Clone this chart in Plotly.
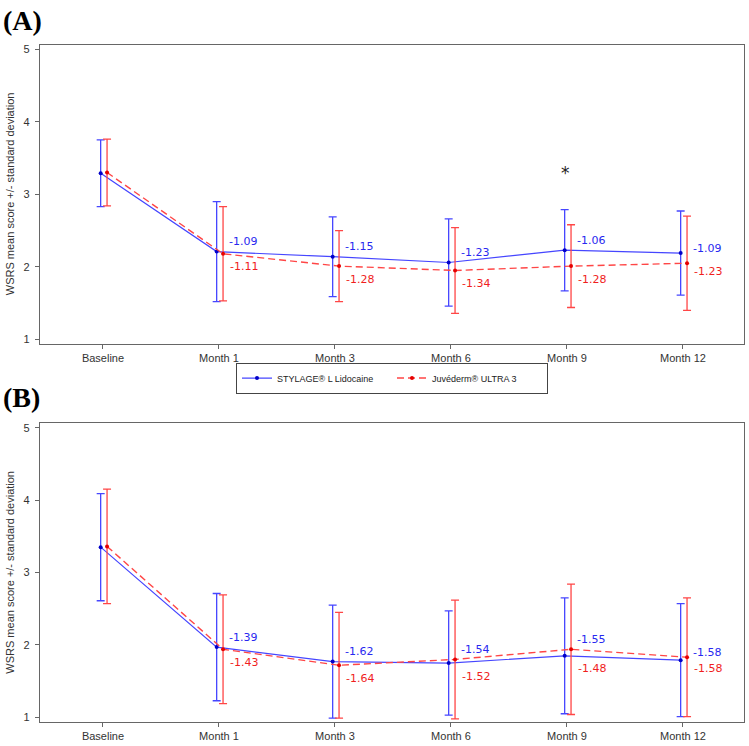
import plotly.graph_objects as go

categories = ["Baseline", "Month 1", "Month 3", "Month 6", "Month 9", "Month 12"]
series_names = ["STYLAGE® L Lidocaine", "Juvéderm® ULTRA 3"]

# Panel A
a_blue_mean = [3.29, 2.21, 2.14, 2.06, 2.23, 2.19]
a_blue_sd = [0.46, 0.69, 0.55, 0.60, 0.56, 0.58]
a_blue_change = ["", "-1.09", "-1.15", "-1.23", "-1.06", "-1.09"]
a_red_mean = [3.30, 2.18, 2.01, 1.95, 2.01, 2.05]
a_red_sd = [0.46, 0.65, 0.49, 0.59, 0.57, 0.65]
a_red_change = ["", "-1.11", "-1.28", "-1.34", "-1.28", "-1.23"]
a_signif = ["", "", "", "", "*", ""]

# Panel B
b_blue_mean = [3.35, 1.97, 1.77, 1.75, 1.85, 1.79]
b_blue_sd = [0.74, 0.74, 0.78, 0.72, 0.80, 0.78]
b_blue_change = ["", "-1.39", "-1.62", "-1.54", "-1.55", "-1.58"]
b_red_mean = [3.36, 1.94, 1.72, 1.80, 1.94, 1.83]
b_red_sd = [0.79, 0.75, 0.73, 0.82, 0.90, 0.82]
b_red_change = ["", "-1.43", "-1.64", "-1.52", "-1.48", "-1.58"]

BLUE_LINE = "rgb(70,70,255)"
BLUE_MARK = "rgb(0,0,200)"
BLUE_TXT = "rgb(40,40,240)"
RED_LINE = "rgb(255,70,70)"
RED_MARK = "rgb(230,0,0)"
RED_TXT = "rgb(240,30,30)"

W, H = 749, 746
fig = go.Figure()

idx = list(range(len(categories)))
blue_off, red_off = -0.02, 0.035
last = idx[-1]

panels = [
    ("x", "y", a_blue_mean, a_blue_sd, a_red_mean, a_red_sd, a_blue_change, a_red_change, True),
    ("x2", "y2", b_blue_mean, b_blue_sd, b_red_mean, b_red_sd, b_blue_change, b_red_change, False),
]

annotations = []
for xa, ya, bm, bs, rm, rs, bc, rc, show in panels:
    fig.add_trace(go.Scatter(
        x=[i + blue_off for i in idx], y=bm, xaxis=xa, yaxis=ya,
        mode="lines+markers", name=series_names[0], showlegend=show, legendrank=1,
        line=dict(color=BLUE_LINE, width=1.2),
        marker=dict(color=BLUE_MARK, size=4),
        error_y=dict(type="data", array=bs, symmetric=True, color=BLUE_LINE, thickness=1.3, width=4),
    ))
    fig.add_trace(go.Scatter(
        x=[i + red_off for i in idx], y=rm, xaxis=xa, yaxis=ya,
        mode="lines+markers", name=series_names[1], showlegend=show, legendrank=2,
        line=dict(color=RED_LINE, width=1.4, dash="7px,4px"),
        marker=dict(color=RED_MARK, size=4),
        error_y=dict(type="data", array=rs, symmetric=True, color=RED_LINE, thickness=1.3, width=4),
    ))
    for i in idx:
        upper = max(bm[i], rm[i])
        lower = min(bm[i], rm[i])
        up_shift = 5 if i == last else 10
        dn_shift = -8 if i == last else -13
        if bc[i]:
            annotations.append(dict(x=i + 0.07, y=upper, xref=xa, yref=ya, text=bc[i],
                                    xanchor="left", yanchor="middle", yshift=up_shift, showarrow=False,
                                    font=dict(family="DejaVu Sans", size=11, color=BLUE_TXT)))
        if rc[i]:
            annotations.append(dict(x=i + 0.075, y=lower, xref=xa, yref=ya, text=rc[i],
                                    xanchor="left", yanchor="middle", yshift=dn_shift, showarrow=False,
                                    font=dict(family="DejaVu Sans", size=11, color=RED_TXT)))

for i, s in enumerate(a_signif):
    if s:
        top = max(a_blue_mean[i] + a_blue_sd[i], a_red_mean[i] + a_red_sd[i])
        annotations.append(dict(x=i - 0.01, y=top + 0.5, xref="x", yref="y", text=s, showarrow=False,
                                xanchor="center", yanchor="middle",
                                font=dict(family="DejaVu Sans", size=17, color="#222")))

# panel letters
annotations.append(dict(x=1 / W, y=1 - 19 / H, xref="paper", yref="paper", text="<b>(A)</b>",
                        showarrow=False, xanchor="left", yanchor="middle",
                        font=dict(family="Liberation Serif", size=28, color="black")))
annotations.append(dict(x=1 / W, y=1 - 397 / H, xref="paper", yref="paper", text="<b>(B)</b>",
                        showarrow=False, xanchor="left", yanchor="middle",
                        font=dict(family="Liberation Serif", size=28, color="black")))

ytitle = "WSRS mean score +/- standard deviation"
for cy in (193, 573):
    annotations.append(dict(x=10 / W, y=1 - cy / H, xref="paper", yref="paper", text=ytitle,
                            textangle=-90, showarrow=False, xanchor="center", yanchor="middle",
                            font=dict(family="Liberation Sans", size=11, color="#333")))

xdom = [40 / W, 744 / W]
axis_common = dict(showline=True, linecolor="#666", linewidth=1.2, mirror=True,
                   ticks="outside", ticklen=4, tickcolor="#666", showgrid=False, zeroline=False,
                   tickfont=dict(family="Liberation Sans", size=11, color="#333"))
xcommon = dict(axis_common, range=[-0.543, 5.526], tickvals=idx, ticktext=categories)
ycommon = dict(axis_common, range=[0.935, 5.06], tickvals=[1, 2, 3, 4, 5], ticklabelstandoff=3)

fig.update_layout(
    width=W, height=H, margin=dict(l=0, r=0, t=0, b=0),
    paper_bgcolor="white", plot_bgcolor="white",
    xaxis=dict(xcommon, domain=xdom, anchor="y"),
    yaxis=dict(ycommon, domain=[1 - 343.5 / H, 1 - 43 / H], anchor="x"),
    xaxis2=dict(xcommon, domain=xdom, anchor="y2"),
    yaxis2=dict(ycommon, domain=[1 - 723 / H, 1 - 423 / H], anchor="x2"),
    annotations=annotations,
    legend=dict(orientation="h", x=392 / W, xanchor="center", y=1 - 362 / H, yanchor="top",
                bordercolor="#444", borderwidth=1, bgcolor="white",
                font=dict(family="Liberation Sans", size=9, color="#222"),
                tracegroupgap=0, itemwidth=30, entrywidth=110, entrywidthmode="pixels"),
    showlegend=True,
)

fig.write_html("out.html")
